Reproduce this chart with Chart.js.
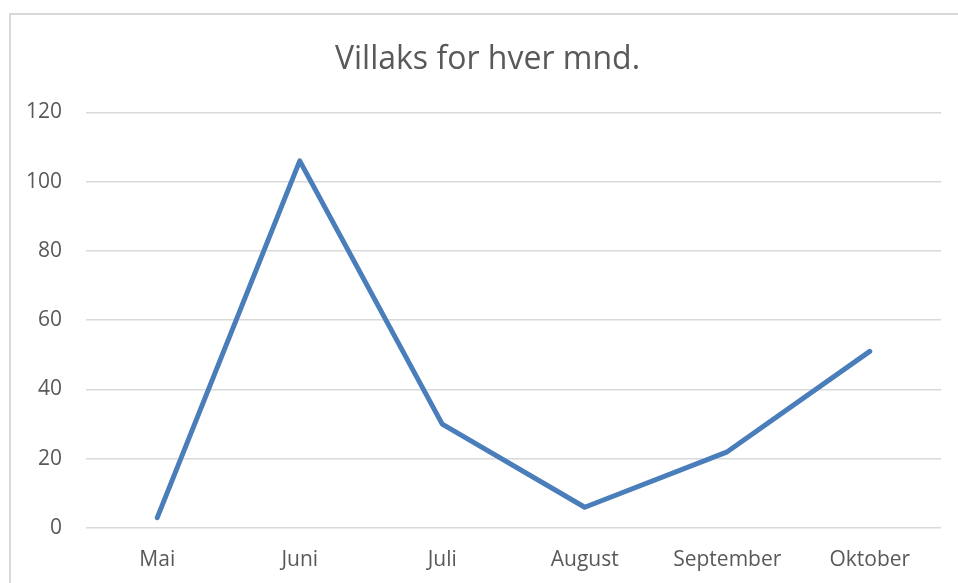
<!DOCTYPE html>
<html>
<head>
<meta charset="utf-8">
<script src="https://cdn.jsdelivr.net/npm/chart.js@4"></script>
<style>
    html, body { margin: 0; padding: 0; background: #fff; }
    #wrap { position: relative; width: 958px; height: 583px; }
    #frame {
        position: absolute; left: 9px; top: 13px; right: -2px; bottom: -5px;
        border: 2px solid #d9d9d9; pointer-events: none;
    }
</style>
</head>
<body>
<div id="wrap">
    <canvas id="lineChart" width="958" height="583"></canvas>
    <div id="frame"></div>
</div>
<script>
const months = ['Mai', 'Juni', 'Juli', 'August', 'September', 'Oktober'];
const villaks = [3, 106, 30, 6, 22, 51];
const yTicks = [0, 20, 40, 60, 80, 100, 120];

document.addEventListener('DOMContentLoaded', function() {
    const ctx = document.getElementById('lineChart').getContext('2d');
    const textColor = '#595959';
    const fontFamily = '"Open Sans", sans-serif';

    // centre the title over the framed box rather than the padded layout
    const centerTitle = {
        id: 'centerTitle',
        afterLayout: function(chart) {
            const tb = chart.titleBlock;
            if (tb) {
                tb.left = 17;
                tb.right = chart.width;
                tb.width = tb.right - tb.left;
            }
        }
    };

    new Chart(ctx, {
        type: 'line',
        data: {
            labels: months,
            datasets: [{
                label: 'Villaks',
                data: villaks,
                borderColor: 'rgb(74, 126, 187)',
                borderWidth: 5,
                borderCapStyle: 'round',
                borderJoinStyle: 'round',
                pointRadius: 0,
                tension: 0,
                fill: false
            }]
        },
        options: {
            responsive: false,
            animation: false,
            layout: { padding: { left: 0, right: 17, top: 0, bottom: 0 } },
            plugins: {
                legend: { display: false },
                tooltip: { enabled: false },
                title: {
                    display: true,
                    text: 'Villaks for hver mnd.',
                    color: textColor,
                    font: { family: fontFamily, size: 32, weight: 'normal' },
                    padding: { top: 41, bottom: 33 }
                }
            },
            scales: {
                x: {
                    offset: true,
                    grid: { display: false, drawTicks: false },
                    border: { display: false },
                    ticks: {
                        color: textColor,
                        font: { family: fontFamily, size: 21 },
                        padding: 19,
                        maxRotation: 0
                    },
                    afterFit: function(scale) { scale.height = 55; }
                },
                y: {
                    min: 0,
                    max: 120,
                    afterBuildTicks: function(scale) {
                        scale.ticks = yTicks.map(v => ({ value: v }));
                    },
                    grid: { color: '#d9d9d9', lineWidth: 1.5, drawTicks: false },
                    border: { display: false },
                    ticks: {
                        color: textColor,
                        font: { family: fontFamily, size: 21 },
                        padding: 24
                    },
                    afterFit: function(scale) { scale.width = 86; }
                }
            }
        },
        plugins: [centerTitle]
    });
});
</script>
</body>
</html>
